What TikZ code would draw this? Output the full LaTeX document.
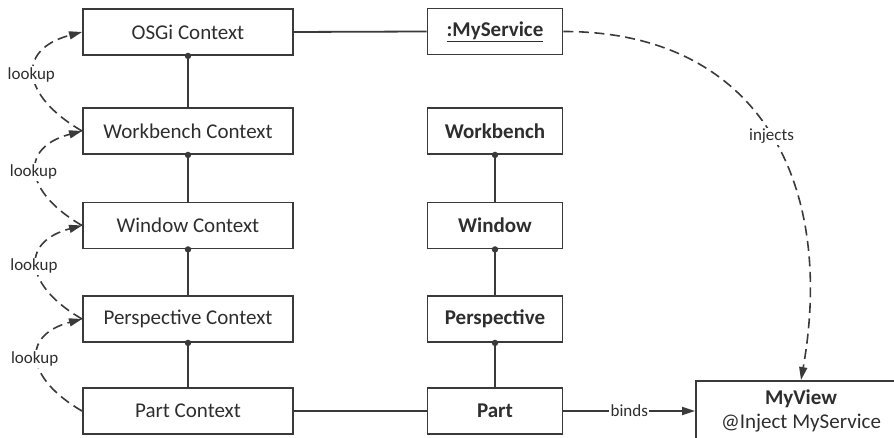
\documentclass[tikz,border=0pt]{standalone}
\usepackage{fontspec}
\setmainfont{Carlito}
\usetikzlibrary{arrows.meta}
\definecolor{ink}{HTML}{3A3A3A}
\definecolor{txt}{HTML}{2E2E2E}
\begin{document}
\begin{tikzpicture}[x=1pt,y=1pt,
  ctx/.style={draw=ink, line width=1.9pt, minimum width=210pt, minimum height=46pt,
    inner sep=0pt, text=txt, font=\fontsize{21}{24}\selectfont},
  obj/.style={ctx, minimum width=135pt, font=\bfseries\fontsize{21}{24}\selectfont},
  link/.style={draw=ink, line width=1.8pt},
  tip/.style={-{Triangle[length=13pt,width=8pt]}},
  dashlink/.style={link, line width=1.6pt, dash pattern=on 10pt off 5.5pt, tip},
  tag/.style={fill=white, inner sep=1.5pt, text=txt, font=\fontsize{17}{19}\selectfont},
]
\useasboundingbox (0,0) rectangle (894,438);
\clip (0,0) rectangle (894,438);

% context hierarchy
\node[ctx] (osgi) at (188,406)   {OSGi Context};
\node[ctx] (wbc)  at (188,307)   {Workbench Context};
\node[ctx] (wic)  at (188,212.5) {Window Context};
\node[ctx] (pec)  at (188,119)   {Perspective Context};
\node[ctx] (pac)  at (188,27)    {Part Context};

% model elements
\node[obj] (svc)  at (495,406.5) {\underline{:MyService}};
\node[obj] (wb)   at (495,307)   {Workbench};
\node[obj] (win)  at (495,212.5) {Window};
\node[obj] (per)  at (495,119)   {Perspective};
\node[obj] (part) at (495,27)    {Part};

% the view class
\node[ctx, minimum height=60pt, align=center] (view) at (801,27)
  {\textbf{MyView}\\@Inject MyService};

% parent-child containment
\foreach \up/\down in {osgi/wbc, wbc/wic, wic/pec, pec/pac, wb/win, win/per, per/part}{
  \draw[link] (\up.south) -- (\down.north);
  \fill[ink] (\up.south) circle (3.2pt);
}

% plain associations
\draw[link] (osgi.east) -- (svc.west);
\draw[link] (pac.east) -- (part.west);
\draw[link, tip] (part.east) -- node[tag] {binds} (part.east -| view.west);

% context lookups
\foreach \low/\high in {wbc/osgi, wic/wbc, pec/wic, pac/pec}{
  \draw[dashlink] (\low.west) to[out=150, in=195, looseness=1.8]
    node[tag, pos=0.5, xshift=-3pt] {lookup} (\high.west);
}

% injection
\draw[dashlink] (svc.east) to[out=0, in=80, looseness=1.2]
  node[tag, pos=0.51] {injects} (view.north);
\end{tikzpicture}
\end{document}
